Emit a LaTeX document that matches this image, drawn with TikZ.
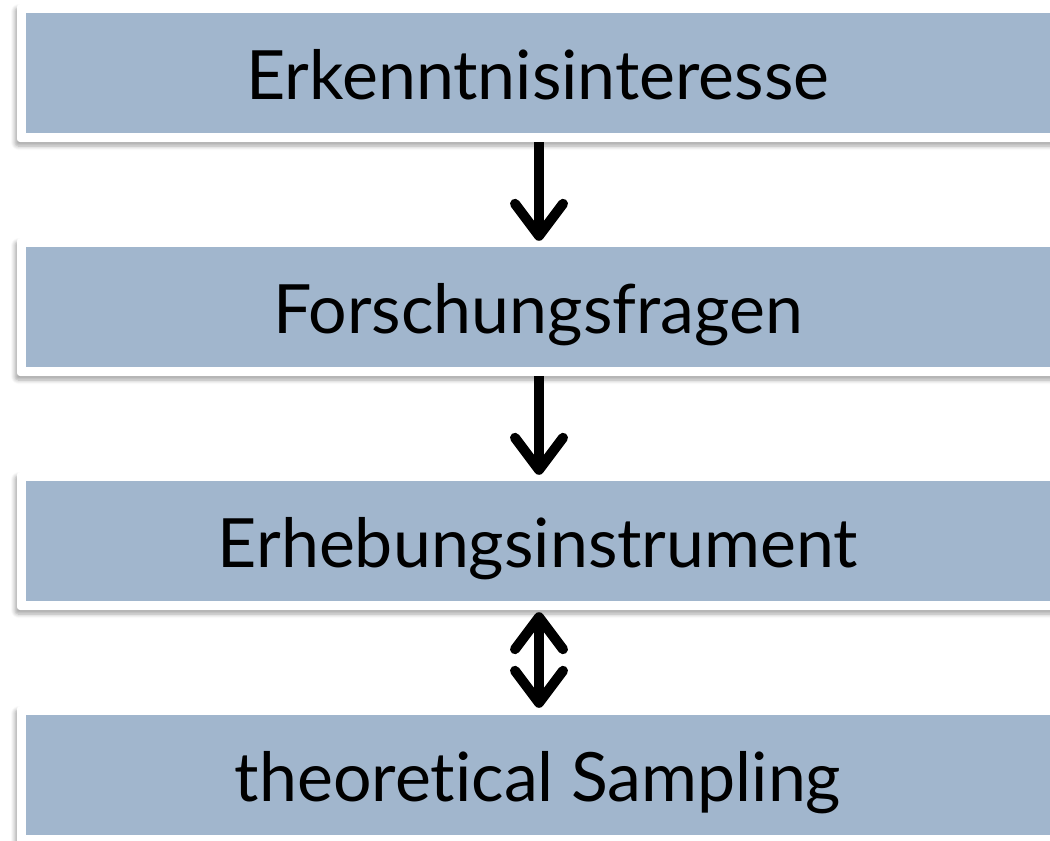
\documentclass[tikz,border=0pt]{standalone}
\usepackage{fontspec}
\setmainfont{Lato}[RawFeature={-liga;-clig;-calt;-dlig}]
\usetikzlibrary{arrows.meta,shadows.blur}
\definecolor{boxblue}{RGB}{161,182,205}
\tikzset{
  frame/.style={draw=none, fill=white, minimum width=1042pt, minimum height=138pt, inner sep=0pt,
    rounded corners=3pt,
    blur shadow={shadow xshift=-2pt, shadow yshift=-4pt, shadow blur steps=6, shadow blur radius=4pt, shadow opacity=35}},
  inner/.style={draw=none, fill=boxblue, minimum width=1024pt, minimum height=120pt, inner sep=0pt,
    text height=52pt, text depth=0pt,
    font=\fontsize{68}{70}\selectfont, text=black},
  conn/.style={line width=10pt, -{Straight Barb[round, length=32pt, width=48pt, line width=10pt]}},
  bconn/.style={line width=10pt, {Straight Barb[round, length=32pt, width=48pt, line width=10pt]}-{Straight Barb[round, length=32pt, width=48pt, line width=10pt]}}
}
\begin{document}
\begin{tikzpicture}[x=1pt,y=-1pt]
\useasboundingbox (0,0) rectangle (1050,841);
\clip (0,0) rectangle (1050,841);
\node[frame] (f1) at (538,73) {};
\node[frame] (f2) at (538,307) {};
\node[frame] (f3) at (538,541) {};
\node[frame] (f4) at (538,775) {};
\node[inner] (b1) at (538,73) {Erkenntnisinteresse};
\node[inner] (b2) at (538,307) {Forschungsfragen};
\node[inner] (b3) at (538,541) {Erhebungsinstrument};
\node[inner] (b4) at (538,775) {theoret\kern0pt ical Sampling};
\coordinate (ax) at (539,0);
\draw[conn] (f1.south -| ax) -- ([yshift=-3pt]f2.north -| ax);
\draw[conn] (f2.south -| ax) -- ([yshift=-3pt]f3.north -| ax);
\draw[bconn] ([yshift=-2pt]f3.south -| ax) -- ([yshift=-2pt]f4.north -| ax);
\end{tikzpicture}
\end{document}
